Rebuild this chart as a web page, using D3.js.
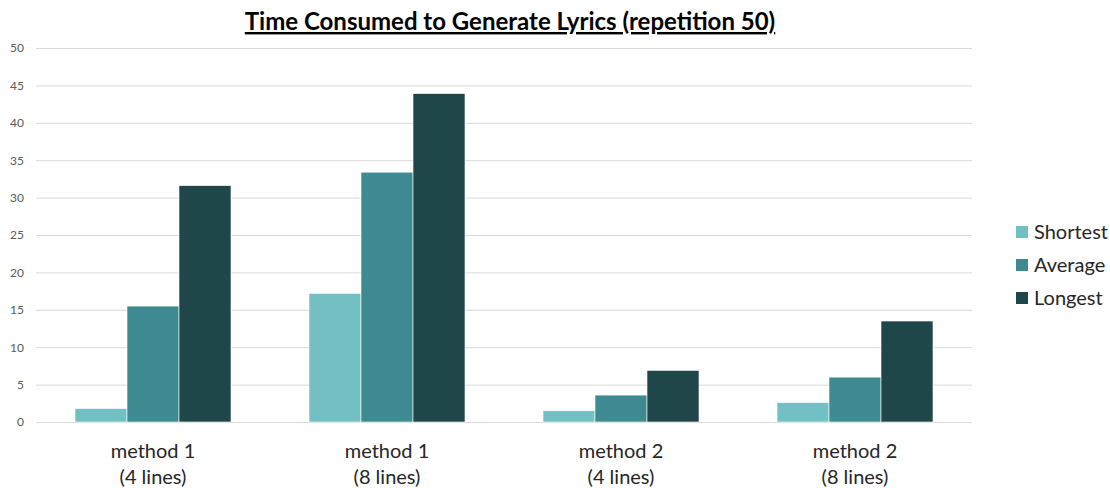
<!DOCTYPE html>
<html><head><meta charset="utf-8">
<script src="https://cdn.jsdelivr.net/npm/d3@7"></script>
<style>body{margin:0;background:#fff}svg{display:block}</style>
</head><body>
<svg id="c" width="1110" height="488"></svg>
<script>
const categories = [["method 1","(4 lines)"],["method 1","(8 lines)"],["method 2","(4 lines)"],["method 2","(8 lines)"]];
const seriesNames = ["Shortest","Average","Longest"];
const shortest = [1.8, 17.2, 1.5, 2.6];
const average  = [15.5, 33.4, 3.6, 6.0];
const longest  = [31.6, 43.9, 6.9, 13.5];
const yTicks = [0,5,10,15,20,25,30,35,40,45,50];
const colors = ["#72bfc4","#3d8b91","#1f4649"];
const title = "Time Consumed to Generate Lyrics (repetition 50)";

(function(){
const series = [shortest, average, longest];
const svg = d3.select("#c");
const font = "Lato, 'Open Sans', sans-serif";
const pl = 36, pr = 972, pt = 48, pb = 422;

const y = d3.scaleLinear().domain([0,50]).range([pb, pt]);
const x0 = d3.scaleBand().domain(d3.range(categories.length)).range([pl, pr]).paddingInner(1/3).paddingOuter(1/6);
const x1 = d3.scaleBand().domain(d3.range(3)).range([0, x0.bandwidth()]);

const yAxis = d3.axisLeft(y).tickValues(yTicks).tickSize(-(pr-pl)).tickPadding(12);
const ga = svg.append("g").attr("transform",`translate(${pl},0)`).call(yAxis);
ga.select(".domain").remove();
ga.selectAll(".tick line").attr("stroke","#d9d9d9").attr("stroke-width",1);
ga.selectAll(".tick text").attr("fill","#595959").style("font-family",font).style("font-size","12px");

const groups = svg.append("g").selectAll("g").data(categories).join("g")
  .attr("transform",(d,i)=>`translate(${x0(i)},0)`);
groups.selectAll("rect").data((d,i)=>series.map((s,j)=>({j, v:s[i]}))).join("rect")
  .attr("x",d=>x1(d.j)).attr("width",x1.bandwidth())
  .attr("y",d=>y(d.v)).attr("height",d=>y(0)-y(d.v))
  .attr("fill",d=>colors[d.j]).attr("stroke","#ffffff").attr("stroke-width",0.6);

const cx = i => x0(i)+x0.bandwidth()/2;
const cl = svg.append("g").selectAll("text").data(categories).join("text")
  .attr("text-anchor","middle")
  .style("font-family",font).style("font-size","20px").attr("fill","#262626");
cl.append("tspan").attr("x",(d,i)=>cx(i)).attr("y",458).text(d=>d[0]);
cl.append("tspan").attr("x",(d,i)=>cx(i)).attr("y",484).text(d=>d[1]);

svg.append("text").attr("x",510).attr("y",30).attr("text-anchor","middle")
  .style("font-family",font).style("font-size","24px").style("font-weight","bold")
  .style("text-decoration","underline").attr("fill","#000").text(title);

const lg = svg.append("g").selectAll("g").data(seriesNames).join("g")
  .attr("transform",(d,i)=>`translate(1016,${226+i*33})`);
lg.append("rect").attr("width",12).attr("height",12).attr("fill",(d,i)=>colors[i]);
lg.append("text").attr("x",18).attr("y",13).text(d=>d)
  .style("font-family",font).style("font-size","20px").attr("fill","#262626");
})();
</script>
</body></html>
